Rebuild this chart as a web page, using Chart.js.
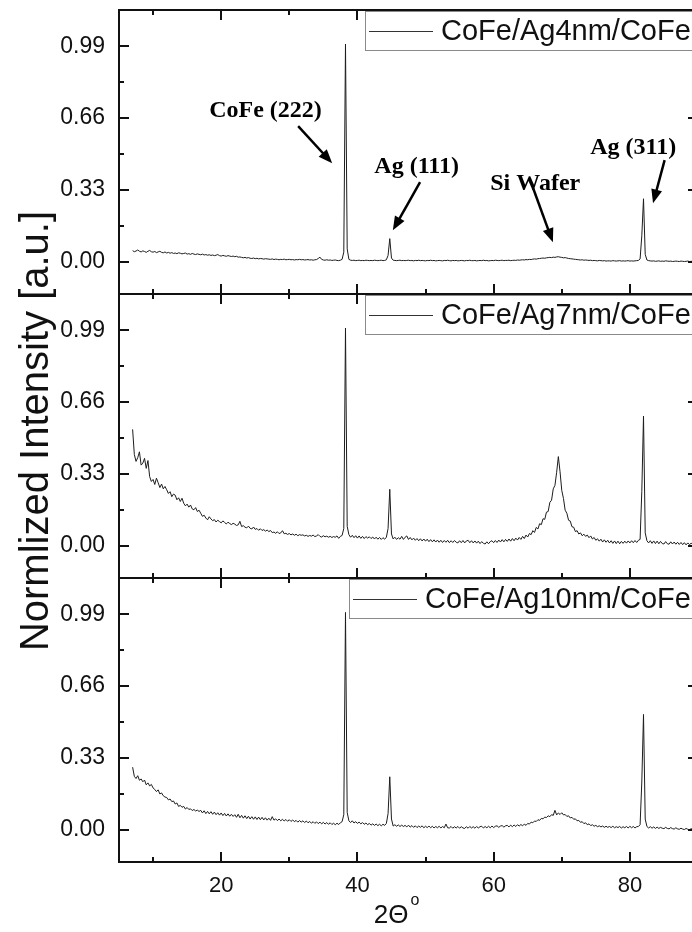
<!DOCTYPE html>
<html>
<head>
<meta charset="utf-8">
<script src="https://cdn.jsdelivr.net/npm/chart.js@4.4.1/dist/chart.umd.min.js"></script>
<style>
  html, body { margin: 0; padding: 0; background: #fff; overflow: hidden; }
  #wrap { width: 700px; height: 932px; }
</style>
</head>
<body>
<div id="wrap"><canvas id="xrd" width="700" height="932"></canvas></div>
<script>
// XRD scans: 2θ from scanStart in steps of scanStep (degrees), normalized intensity
const scanStart = 7.0;
const scanStep = 0.25;

const sampleNames = ['CoFe/Ag4nm/CoFe', 'CoFe/Ag7nm/CoFe', 'CoFe/Ag10nm/CoFe'];

const ag4nm = [
  0.052, 0.047, 0.050, 0.055, 0.049, 0.046, 0.051, 0.048, 0.044, 0.049, 0.053, 0.047, 0.045, 0.048, 0.043, 0.046, 0.049, 0.044, 0.042, 0.046,
  0.041, 0.044, 0.040, 0.043, 0.039, 0.041, 0.038, 0.042, 0.040, 0.037, 0.039, 0.041, 0.036, 0.038, 0.035, 0.039, 0.036, 0.034, 0.037, 0.035,
  0.033, 0.036, 0.032, 0.034, 0.031, 0.033, 0.030, 0.032, 0.029, 0.031, 0.034, 0.029, 0.027, 0.030, 0.028, 0.026, 0.029, 0.027, 0.025, 0.027,
  0.024, 0.026, 0.022, 0.023, 0.021, 0.019, 0.021, 0.018, 0.020, 0.017, 0.016, 0.018, 0.015, 0.017, 0.014, 0.016, 0.015, 0.013, 0.015, 0.014,
  0.013, 0.012, 0.014, 0.011, 0.013, 0.012, 0.010, 0.012, 0.011, 0.013, 0.010, 0.011, 0.012, 0.010, 0.011, 0.009, 0.011, 0.010, 0.012, 0.010,
  0.011, 0.009, 0.010, 0.011, 0.009, 0.010, 0.008, 0.010, 0.011, 0.016, 0.022, 0.012, 0.009, 0.008, 0.010, 0.008, 0.009, 0.007, 0.008, 0.009,
  0.007, 0.006, 0.008, 0.012, 0.045, 1.000, 0.060, 0.012, 0.008, 0.007, 0.008, 0.006, 0.007, 0.008, 0.006, 0.007, 0.006, 0.008, 0.007, 0.006,
  0.007, 0.006, 0.008, 0.007, 0.006, 0.007, 0.008, 0.006, 0.007, 0.010, 0.030, 0.107, 0.018, 0.008, 0.007, 0.006, 0.007, 0.008, 0.006, 0.007,
  0.006, 0.007, 0.008, 0.006, 0.007, 0.005, 0.007, 0.006, 0.008, 0.006, 0.007, 0.006, 0.005, 0.007, 0.006, 0.008, 0.006, 0.007, 0.005, 0.006,
  0.007, 0.006, 0.005, 0.007, 0.006, 0.008, 0.006, 0.005, 0.007, 0.006, 0.007, 0.005, 0.006, 0.007, 0.006, 0.005, 0.007, 0.006, 0.008, 0.006,
  0.006, 0.007, 0.005, 0.006, 0.007, 0.006, 0.008, 0.006, 0.007, 0.005, 0.006, 0.007, 0.006, 0.008, 0.007, 0.006, 0.007, 0.008, 0.006, 0.007,
  0.007, 0.008, 0.006, 0.007, 0.008, 0.007, 0.009, 0.008, 0.009, 0.010, 0.009, 0.011, 0.010, 0.012, 0.011, 0.013, 0.014, 0.013, 0.015, 0.016,
  0.017, 0.018, 0.017, 0.019, 0.020, 0.021, 0.020, 0.022, 0.021, 0.023, 0.024, 0.022, 0.021, 0.019, 0.020, 0.018, 0.016, 0.015, 0.014, 0.013,
  0.012, 0.011, 0.010, 0.009, 0.010, 0.008, 0.009, 0.008, 0.007, 0.008, 0.006, 0.007, 0.006, 0.005, 0.007, 0.006, 0.005, 0.006, 0.004, 0.005,
  0.005, 0.004, 0.006, 0.005, 0.004, 0.005, 0.006, 0.004, 0.005, 0.004, 0.005, 0.006, 0.004, 0.005, 0.004, 0.005, 0.006, 0.007, 0.014, 0.120,
  0.290, 0.035, 0.009, 0.006, 0.005, 0.004, 0.005, 0.003, 0.004, 0.005, 0.003, 0.004, 0.003, 0.005, 0.004, 0.003, 0.004, 0.002, 0.003, 0.004,
  0.003, 0.002, 0.004, 0.003, 0.002, 0.003, 0.004, 0.002, 0.003, 0.002, 0.003, 0.004, 0.003
];

const ag7nm = [
  0.535, 0.420, 0.388, 0.405, 0.432, 0.371, 0.380, 0.402, 0.356, 0.392, 0.318, 0.296, 0.305, 0.282, 0.311, 0.290, 0.268, 0.284, 0.262, 0.273,
  0.258, 0.241, 0.249, 0.226, 0.238, 0.233, 0.212, 0.221, 0.204, 0.219, 0.196, 0.184, 0.192, 0.178, 0.188, 0.170, 0.166, 0.176, 0.158, 0.164,
  0.150, 0.136, 0.141, 0.128, 0.120, 0.134, 0.124, 0.116, 0.121, 0.110, 0.118, 0.112, 0.106, 0.115, 0.108, 0.101, 0.109, 0.103, 0.098, 0.104,
  0.100, 0.094, 0.097, 0.113, 0.089, 0.093, 0.086, 0.083, 0.091, 0.081, 0.078, 0.087, 0.076, 0.080, 0.072, 0.079, 0.071, 0.075, 0.068, 0.073,
  0.066, 0.071, 0.061, 0.064, 0.058, 0.065, 0.057, 0.060, 0.070, 0.056, 0.058, 0.053, 0.057, 0.051, 0.055, 0.049, 0.054, 0.047, 0.052, 0.049,
  0.051, 0.046, 0.049, 0.044, 0.048, 0.045, 0.050, 0.043, 0.046, 0.052, 0.044, 0.041, 0.047, 0.042, 0.045, 0.040, 0.044, 0.039, 0.043, 0.040,
  0.046, 0.035, 0.044, 0.048, 0.080, 1.000, 0.090, 0.052, 0.040, 0.049, 0.038, 0.047, 0.036, 0.046, 0.035, 0.044, 0.034, 0.043, 0.036, 0.042,
  0.034, 0.041, 0.032, 0.040, 0.031, 0.039, 0.030, 0.038, 0.031, 0.040, 0.080, 0.260, 0.055, 0.032, 0.040, 0.030, 0.038, 0.031, 0.044, 0.030,
  0.040, 0.046, 0.030, 0.039, 0.028, 0.036, 0.026, 0.034, 0.024, 0.033, 0.023, 0.032, 0.022, 0.031, 0.020, 0.029, 0.019, 0.028, 0.018, 0.027,
  0.017, 0.026, 0.016, 0.025, 0.017, 0.026, 0.015, 0.024, 0.016, 0.025, 0.017, 0.014, 0.024, 0.015, 0.025, 0.014, 0.023, 0.026, 0.015, 0.024,
  0.014, 0.023, 0.013, 0.022, 0.011, 0.020, 0.012, 0.009, 0.019, 0.010, 0.020, 0.024, 0.015, 0.025, 0.016, 0.027, 0.018, 0.029, 0.019, 0.030,
  0.021, 0.032, 0.022, 0.034, 0.024, 0.036, 0.027, 0.039, 0.030, 0.044, 0.034, 0.050, 0.041, 0.057, 0.052, 0.070, 0.062, 0.085, 0.078, 0.102,
  0.098, 0.125, 0.122, 0.155, 0.158, 0.200, 0.210, 0.262, 0.278, 0.338, 0.410, 0.340, 0.255, 0.218, 0.164, 0.150, 0.118, 0.114, 0.088, 0.086,
  0.066, 0.070, 0.055, 0.060, 0.047, 0.054, 0.044, 0.050, 0.038, 0.046, 0.032, 0.039, 0.026, 0.033, 0.022, 0.031, 0.018, 0.028, 0.017, 0.026,
  0.014, 0.024, 0.012, 0.023, 0.011, 0.022, 0.010, 0.021, 0.012, 0.022, 0.013, 0.023, 0.014, 0.024, 0.015, 0.025, 0.016, 0.026, 0.030, 0.250,
  0.596, 0.060, 0.024, 0.014, 0.024, 0.012, 0.023, 0.011, 0.022, 0.010, 0.021, 0.011, 0.009, 0.020, 0.010, 0.008, 0.019, 0.009, 0.018, 0.008,
  0.017, 0.007, 0.016, 0.006, 0.015, 0.005, 0.014, 0.006, 0.013, 0.005, 0.012, 0.006, 0.009
];

const ag10nm = [
  0.288, 0.246, 0.236, 0.249, 0.228, 0.234, 0.221, 0.229, 0.207, 0.216, 0.202, 0.209, 0.193, 0.186, 0.176, 0.184, 0.165, 0.170, 0.157, 0.151,
  0.149, 0.138, 0.142, 0.130, 0.133, 0.119, 0.124, 0.108, 0.113, 0.104, 0.108, 0.096, 0.103, 0.094, 0.097, 0.089, 0.094, 0.087, 0.091, 0.085,
  0.090, 0.078, 0.088, 0.075, 0.085, 0.074, 0.084, 0.072, 0.082, 0.070, 0.079, 0.068, 0.078, 0.066, 0.076, 0.064, 0.074, 0.063, 0.072, 0.062,
  0.070, 0.058, 0.072, 0.056, 0.067, 0.054, 0.065, 0.052, 0.063, 0.050, 0.061, 0.049, 0.060, 0.048, 0.059, 0.047, 0.058, 0.046, 0.056, 0.045,
  0.054, 0.044, 0.061, 0.045, 0.051, 0.043, 0.050, 0.042, 0.049, 0.041, 0.048, 0.040, 0.047, 0.039, 0.046, 0.038, 0.044, 0.036, 0.043, 0.036,
  0.042, 0.034, 0.041, 0.033, 0.039, 0.031, 0.038, 0.030, 0.037, 0.029, 0.036, 0.028, 0.035, 0.027, 0.034, 0.026, 0.033, 0.025, 0.031, 0.024,
  0.031, 0.025, 0.033, 0.038, 0.070, 0.998, 0.080, 0.042, 0.034, 0.042, 0.032, 0.038, 0.030, 0.036, 0.028, 0.034, 0.026, 0.032, 0.024, 0.030,
  0.022, 0.028, 0.021, 0.027, 0.020, 0.026, 0.019, 0.026, 0.021, 0.030, 0.075, 0.244, 0.050, 0.018, 0.024, 0.017, 0.023, 0.016, 0.022, 0.016,
  0.021, 0.014, 0.022, 0.013, 0.020, 0.012, 0.019, 0.011, 0.018, 0.012, 0.019, 0.010, 0.017, 0.011, 0.018, 0.010, 0.017, 0.009, 0.016, 0.010,
  0.017, 0.009, 0.016, 0.010, 0.027, 0.010, 0.009, 0.016, 0.008, 0.015, 0.009, 0.016, 0.008, 0.015, 0.009, 0.007, 0.015, 0.008, 0.016, 0.009,
  0.015, 0.008, 0.016, 0.009, 0.015, 0.017, 0.009, 0.016, 0.010, 0.017, 0.010, 0.018, 0.011, 0.017, 0.019, 0.012, 0.018, 0.020, 0.013, 0.019,
  0.021, 0.014, 0.022, 0.015, 0.023, 0.016, 0.024, 0.018, 0.025, 0.019, 0.027, 0.021, 0.030, 0.027, 0.036, 0.033, 0.041, 0.039, 0.047, 0.044,
  0.053, 0.051, 0.059, 0.057, 0.065, 0.061, 0.070, 0.067, 0.090, 0.069, 0.078, 0.071, 0.079, 0.069, 0.071, 0.062, 0.065, 0.055, 0.058, 0.049,
  0.051, 0.042, 0.044, 0.035, 0.038, 0.029, 0.033, 0.024, 0.028, 0.020, 0.024, 0.017, 0.021, 0.015, 0.019, 0.014, 0.018, 0.012, 0.017, 0.012,
  0.016, 0.011, 0.017, 0.010, 0.015, 0.011, 0.016, 0.009, 0.015, 0.010, 0.016, 0.009, 0.017, 0.010, 0.016, 0.009, 0.015, 0.016, 0.024, 0.220,
  0.530, 0.050, 0.016, 0.009, 0.015, 0.008, 0.014, 0.007, 0.013, 0.007, 0.012, 0.008, 0.006, 0.012, 0.007, 0.005, 0.011, 0.006, 0.004, 0.010,
  0.005, 0.003, 0.008, 0.004, 0.002, 0.007, 0.003, 0.001, 0.006, 0.002, 0.001, 0.005, 0.003
];

const xMajorTicks = [20, 40, 60, 80];
const xMinorTicks = [10, 30, 50, 70];
const yMajorTicks = [0, 0.33, 0.66, 0.99];
const yMinorTicks = [0.165, 0.495, 0.825];

const peakNames = ['CoFe (222)', 'Ag (111)', 'Si Wafer', 'Ag (311)'];

// ---------------------------------------------------------------------------
const SANS = "'Liberation Sans', Arial, sans-serif";
const SERIF = "'Liberation Serif', 'Times New Roman', serif";
const INK = '#111';

// panels listed top to bottom
const panelIds = ['yTop', 'yMid', 'yBot'];
const seriesByPanel = [ag4nm, ag7nm, ag10nm];

// label anchor and arrow (tail -> head) in data units of the upper panel
const peakNotes = [
  { text: peakNames[0], at: [26.5, 0.665], from: [31.3, 0.623], to: [36.3, 0.453] },
  { text: peakNames[1], at: [48.7, 0.407], from: [49.2, 0.366], to: [45.2, 0.145] },
  { text: peakNames[2], at: [66.1, 0.329], from: [65.8, 0.338], to: [68.7, 0.090] },
  { text: peakNames[3], at: [80.5, 0.494], from: [85.1, 0.467], to: [83.4, 0.269] }
];

const toPoints = ys => ys.map((y, i) => ({ x: scanStart + i * scanStep, y }));

function panelScale() {
  return {
    type: 'linear',
    position: 'left',
    stack: 'panels',
    stackWeight: 1,
    min: -0.147,
    max: 1.156,
    grid: { display: false, drawTicks: false },
    border: { display: false },
    afterBuildTicks: s => { s.ticks = yMajorTicks.map(v => ({ value: v })); },
    afterFit: s => { s.width = 119; s.paddingTop = 0; s.paddingBottom = 0; },
    ticks: {
      padding: 14,
      color: INK,
      font: { family: SANS, size: 23 },
      callback: v => Number(v).toFixed(2)
    }
  };
}

function drawArrow(ctx, x0, y0, x1, y1) {
  const dx = x1 - x0, dy = y1 - y0;
  const len = Math.hypot(dx, dy);
  const ux = dx / len, uy = dy / len;
  const head = 14, half = 5.5;
  ctx.beginPath();
  ctx.moveTo(x0, y0);
  ctx.lineTo(x1 - ux * head * 0.8, y1 - uy * head * 0.8);
  ctx.lineWidth = 2.5;
  ctx.stroke();
  ctx.beginPath();
  ctx.moveTo(x1, y1);
  ctx.lineTo(x1 - ux * head - uy * half, y1 - uy * head + ux * half);
  ctx.lineTo(x1 - ux * head + uy * half, y1 - uy * head - ux * half);
  ctx.closePath();
  ctx.fill();
}

const xrdDecor = {
  id: 'xrdDecor',
  afterDatasetsDraw(chart) {
    const { ctx, chartArea: area, scales } = chart;
    const xs = scales.x;
    ctx.save();

    // frames with inward ticks on all four sides of every panel
    ctx.strokeStyle = INK;
    ctx.lineWidth = 2;
    panelIds.forEach(id => {
      const ys = scales[id];
      const t = ys.top, b = ys.bottom, l = area.left, r = area.right;
      ctx.beginPath();
      const xt = (v, len) => {
        const px = Math.round(xs.getPixelForValue(v));
        ctx.moveTo(px, t); ctx.lineTo(px, t + len);
        ctx.moveTo(px, b); ctx.lineTo(px, b - len);
      };
      const yt = (v, len) => {
        const py = Math.round(ys.getPixelForValue(v));
        ctx.moveTo(l, py); ctx.lineTo(l + len, py);
        ctx.moveTo(r, py); ctx.lineTo(r - len, py);
      };
      xMajorTicks.forEach(v => xt(v, 10));
      xMinorTicks.forEach(v => xt(v, 5));
      yMajorTicks.forEach(v => yt(v, 10));
      yMinorTicks.forEach(v => yt(v, 5));
      ctx.stroke();
      ctx.strokeRect(l, t, r - l, b - t);
    });

    // peak annotations in the upper panel
    const yTop = scales.yTop;
    ctx.fillStyle = '#000';
    ctx.strokeStyle = '#000';
    ctx.font = `bold 24px ${SERIF}`;
    ctx.textAlign = 'center';
    ctx.textBaseline = 'alphabetic';
    peakNotes.forEach(n => {
      ctx.fillText(n.text, xs.getPixelForValue(n.at[0]), yTop.getPixelForValue(n.at[1]));
      drawArrow(ctx,
        xs.getPixelForValue(n.from[0]), yTop.getPixelForValue(n.from[1]),
        xs.getPixelForValue(n.to[0]), yTop.getPixelForValue(n.to[1]));
    });

    // one legend box per panel, anchored to the top right corner
    ctx.font = `29px ${SANS}`;
    ctx.textAlign = 'left';
    panelIds.forEach((id, p) => {
      const ys = scales[id];
      const tw = ctx.measureText(sampleNames[p]).width;
      const right = area.right + 1;
      const left = Math.round(right - (4 + 64 + 8 + tw + 8));
      const top = Math.round(ys.top) + 1;
      const h = 39;
      ctx.fillStyle = '#fff';
      ctx.fillRect(left, top, right - left, h);
      ctx.strokeStyle = '#8a8a8a';
      ctx.lineWidth = 1;
      ctx.strokeRect(left + 0.5, top + 0.5, right - left, h);
      ctx.strokeStyle = '#333';
      ctx.beginPath();
      ctx.moveTo(left + 4, top + 20.5);
      ctx.lineTo(left + 68, top + 20.5);
      ctx.stroke();
      ctx.fillStyle = INK;
      ctx.fillText(sampleNames[p], left + 76, top + 29);
    });

    // shared y-axis title
    ctx.save();
    ctx.translate(48, (area.top + area.bottom) / 2 - 5);
    ctx.rotate(-Math.PI / 2);
    ctx.font = `40px ${SANS}`;
    ctx.textAlign = 'center';
    ctx.fillStyle = INK;
    ctx.fillText('Normlized Intensity [a.u.]', 0, 0);
    ctx.restore();

    // x-axis title: 2Θ with a raised degree "o"
    ctx.font = `26px ${SANS}`;
    const w1 = ctx.measureText('2Θ').width;
    ctx.font = `16px ${SANS}`;
    const w2 = ctx.measureText('o').width;
    const cx = (area.left + area.right) / 2 - 12;
    const x0 = cx - (w1 + 2 + w2) / 2;
    const base = area.bottom + 61;
    ctx.fillStyle = INK;
    ctx.textAlign = 'left';
    ctx.font = `26px ${SANS}`;
    ctx.fillText('2Θ', x0, base);
    ctx.font = `16px ${SANS}`;
    ctx.fillText('o', x0 + w1 + 2, base - 18);

    ctx.restore();
  }
};

const datasets = seriesByPanel.map((series, p) => ({
  label: sampleNames[p],
  data: toPoints(series),
  yAxisID: panelIds[p],
  borderColor: '#1c1c1c',
  borderWidth: 1,
  pointRadius: 0,
  tension: 0,
  fill: false
}));

const scales = {
  x: {
    type: 'linear',
    position: 'bottom',
    min: 5,
    max: 90,
    grid: { display: false, drawTicks: false },
    border: { display: false },
    afterBuildTicks: s => { s.ticks = xMajorTicks.map(v => ({ value: v })); },
    afterFit: s => { s.height = 70; s.paddingLeft = 0; s.paddingRight = 0; },
    ticks: {
      padding: 11,
      color: INK,
      maxRotation: 0,
      font: { family: SANS, size: 22 }
    }
  }
};
// stacked axes are laid out bottom-up, so register the lowest panel first
panelIds.slice().reverse().forEach(id => { scales[id] = panelScale(); });

new Chart(document.getElementById('xrd'), {
  type: 'line',
  data: { datasets },
  options: {
    responsive: false,
    devicePixelRatio: 1,
    animation: false,
    layout: { padding: { top: 10, right: 2, bottom: 0, left: 0 } },
    plugins: { legend: { display: false }, tooltip: { enabled: false } },
    scales
  },
  plugins: [xrdDecor]
});
</script>
</body>
</html>
